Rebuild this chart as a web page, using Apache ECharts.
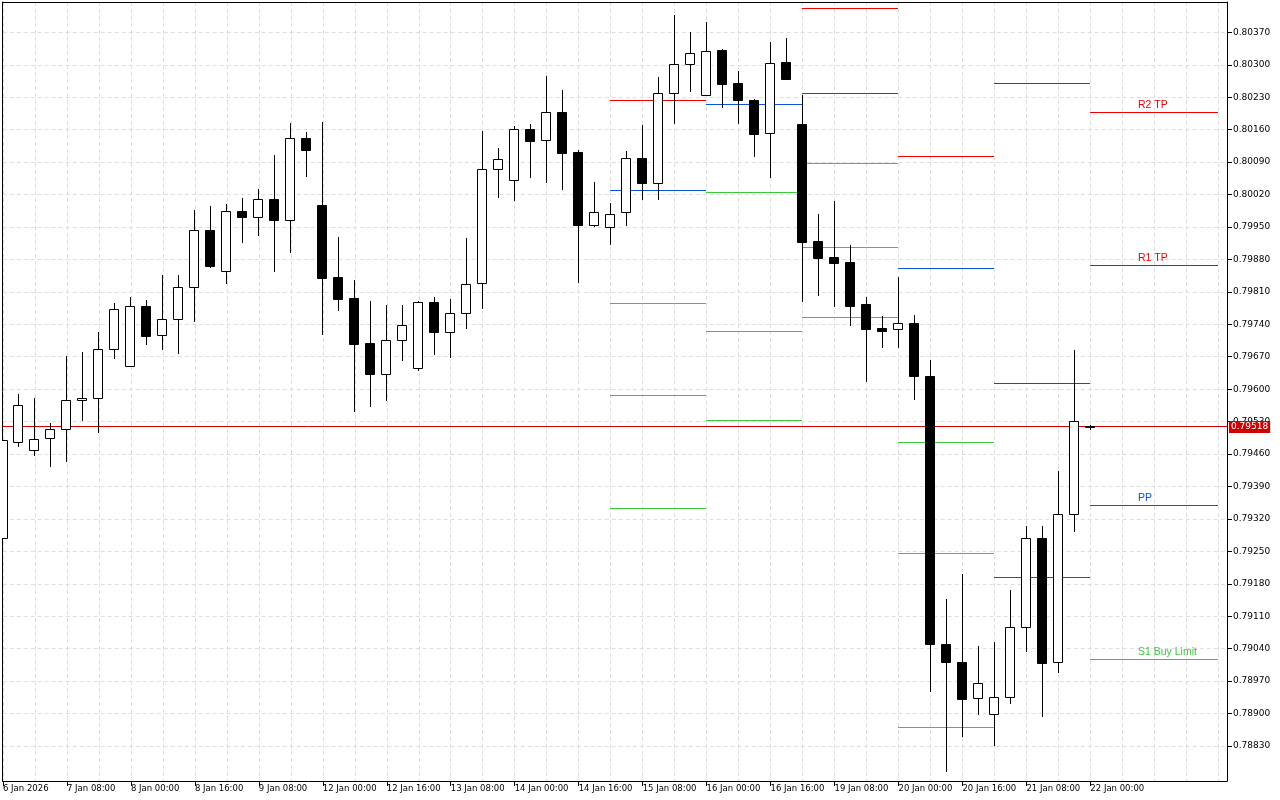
<!DOCTYPE html>
<html><head><meta charset="utf-8">
<script src="https://cdn.jsdelivr.net/npm/echarts@6/dist/echarts.min.js"></script>
<style>html,body{margin:0;padding:0;background:#fff}#c{width:1280px;height:800px}</style>
</head><body><div id="c"></div>
<script>
// ---- data (H4 candles, 6 Jan 16:00 ... 22 Jan 00:00) ----
const tickIdx = [0,4,8,12,16,20,24,28,32,36,40,44,48,52,56,60,64,68];
const tickLabels = ["6 Jan 2026","7 Jan 08:00","8 Jan 00:00","8 Jan 16:00","9 Jan 08:00","12 Jan 00:00","12 Jan 16:00","13 Jan 08:00","14 Jan 00:00","14 Jan 16:00","15 Jan 08:00","16 Jan 00:00","16 Jan 16:00","19 Jan 08:00","20 Jan 00:00","20 Jan 16:00","21 Jan 08:00","22 Jan 00:00"];
const yTicks = [0.78830,0.78900,0.78970,0.79040,0.79110,0.79180,0.79250,0.79320,0.79390,0.79460,0.79530,0.79600,0.79670,0.79740,0.79810,0.79880,0.79950,0.80020,0.80090,0.80160,0.80230,0.80300,0.80370];

const open = [0.79279,0.79487,0.79468,0.79494,0.79513,0.79576,0.79580,0.79686,0.79651,0.79779,0.79716,0.79751,0.79820,0.79943,0.79856,0.79984,0.79971,0.80010,0.79966,0.80141,0.79997,0.79841,0.79797,0.79700,0.79633,0.79707,0.79645,0.79789,0.79724,0.79765,0.79828,0.80076,0.80051,0.80161,0.80137,0.80199,0.80111,0.79955,0.79949,0.79982,0.80098,0.80045,0.80240,0.80301,0.80234,0.80332,0.80261,0.80224,0.80152,0.80306,0.80172,0.79920,0.79885,0.79874,0.79784,0.79731,0.79729,0.79743,0.79628,0.79051,0.79011,0.78933,0.78898,0.78935,0.79086,0.79278,0.79012,0.79330,0.79521];
const high = [0.79490,0.79590,0.79580,0.79527,0.79671,0.79680,0.79723,0.79786,0.79799,0.79792,0.79846,0.79846,0.79986,0.79995,0.79999,0.80012,0.80032,0.80105,0.80174,0.80155,0.80176,0.79928,0.79835,0.79790,0.79781,0.79781,0.79790,0.79799,0.79794,0.79926,0.80157,0.80120,0.80168,0.80172,0.80276,0.80245,0.80116,0.80047,0.80002,0.80114,0.80170,0.80273,0.80407,0.80371,0.80392,0.80334,0.80286,0.80227,0.80349,0.80358,0.80235,0.79978,0.80006,0.79911,0.79799,0.79758,0.79842,0.79760,0.79663,0.79147,0.79201,0.79045,0.79054,0.79166,0.79304,0.79304,0.79423,0.79684,0.79523];
const low = [0.79279,0.79478,0.79459,0.79435,0.79446,0.79533,0.79508,0.79668,0.79650,0.79698,0.79687,0.79679,0.79748,0.79864,0.79830,0.79918,0.79933,0.79856,0.79897,0.80061,0.79720,0.79771,0.79553,0.79564,0.79577,0.79663,0.79641,0.79676,0.79670,0.79733,0.79776,0.80015,0.80009,0.80058,0.80048,0.80032,0.79832,0.79953,0.79914,0.79955,0.80011,0.80011,0.80175,0.80244,0.80234,0.80209,0.80175,0.80104,0.80058,0.80270,0.79791,0.79804,0.79780,0.79739,0.79618,0.79692,0.79692,0.79579,0.78948,0.78775,0.78852,0.78899,0.78833,0.78923,0.79036,0.78895,0.78990,0.79293,0.79515];
const close = [0.79490,0.79565,0.79492,0.79513,0.79576,0.79580,0.79686,0.79774,0.79779,0.79715,0.79751,0.79820,0.79943,0.79866,0.79984,0.79971,0.80010,0.79966,0.80141,0.80117,0.79840,0.79795,0.79698,0.79633,0.79707,0.79738,0.79789,0.79724,0.79764,0.79826,0.80076,0.80096,0.80161,0.80136,0.80199,0.80110,0.79955,0.79982,0.79979,0.80098,0.80045,0.80240,0.80301,0.80325,0.80329,0.80259,0.80224,0.80151,0.80303,0.80270,0.79918,0.79884,0.79873,0.79780,0.79730,0.79726,0.79742,0.79629,0.79050,0.79012,0.78932,0.78965,0.78935,0.79086,0.79278,0.79009,0.79330,0.79532,0.79518];
const currentPrice = [0.79518];

// daily pivot levels (segments from day start to next day start, candle index)
const pivotStart = [38,44,50,56,62,68];
const pivotEnd   = [44,50,56,62,68,76];
const pivotR2 = [null,null,null,null,0.80260,0.80199];
const pivotR1 = [0.80225,null,0.80422,0.80103,0.79613,0.79867];
const pivotPP = [0.80029,0.80215,0.80240,0.79861,0.79194,0.79349];
const pivotS1 = [0.79785,0.80025,0.80089,0.79485,null,0.79017];
const pivotS2 = [0.79587,0.79725,0.79906,0.79246,null,null];
const pivotS3 = [0.79343,0.79533,0.79755,0.78870,null,null];
const pivotTags = {R2:'R2 TP', R1:'R1 TP', PP:'PP', S1:'S1 Buy Limit'};

// ---- layout / style ----
const Y_MIN = 0.787545, Y_MAX = 0.804354, X_MIN = -0.019, X_MAX = 76.544;
const TAG_IDX = 71;
const RED = '#f00000', BLUE = '#0a50d8', GREEN = '#3cc83c', PRICE = '#d00000';
const FONT = 'DejaVu Sans';
const GRID_COL = '#dedede';

const candleData = open.map((o, i) => [i, o, close[i], low[i], high[i]]);

const levels = [['R2', pivotR2, RED], ['R1', pivotR1, RED], ['PP', pivotPP, BLUE],
                ['S1', pivotS1, GREEN], ['S2', pivotS2, GREEN], ['S3', pivotS3, GREEN]];
const pivotData = [], pivotMeta = [];
levels.forEach(([name, arr, col]) => arr.forEach((v, d) => {
  if (v == null) return;
  pivotData.push([pivotStart[d], pivotEnd[d], v]);
  pivotMeta.push({ col, tag: d === arr.length - 1 ? (pivotTags[name] || null) : null });
}));

const vGrid = [];
for (let k = 0; k <= 76; k += 2) vGrid.push(k);

function renderCandle(params, api) {
  const i = api.value(0), o = api.value(1), c = api.value(2), l = api.value(3), h = api.value(4);
  const pO = api.coord([i, o]), pC = api.coord([i, c]), pL = api.coord([i, l]), pH = api.coord([i, h]);
  const px = Math.floor(pO[0]);
  const top = Math.round(Math.min(pO[1], pC[1]));
  const bot = Math.round(Math.max(pO[1], pC[1]));
  const bull = c >= o;
  const children = [{
    type: 'line',
    shape: { x1: px + 0.5, y1: Math.round(pH[1]), x2: px + 0.5, y2: Math.round(pL[1]) + 1 },
    style: { stroke: '#000', lineWidth: 1 }
  }];
  if (bot - top < 1) {
    children.push({ type: 'line', shape: { x1: px - 5, y1: top + 0.5, x2: px + 5, y2: top + 0.5 },
      style: { stroke: '#000', lineWidth: 1 } });
  } else {
    children.push({ type: 'rect', shape: { x: px - 4.5, y: top + 0.5, width: 9, height: bot - top },
      style: { fill: bull ? '#fff' : '#000', stroke: '#000', lineWidth: 1 } });
  }
  return { type: 'group', children };
}

function renderPivot(params, api) {
  const m = pivotMeta[params.dataIndex];
  const a = api.coord([api.value(0), api.value(2)]);
  const b = api.coord([api.value(1), api.value(2)]);
  const y = Math.round(a[1]) + 0.5;
  const children = [{ type: 'line', shape: { x1: Math.floor(a[0]), y1: y, x2: Math.floor(b[0]), y2: y },
    style: { stroke: m.col, lineWidth: 1 } }];
  if (m.tag) {
    const t = api.coord([TAG_IDX, api.value(2)]);
    children.push({ type: 'text', x: Math.round(t[0]), y: y - 2,
      style: { text: m.tag, fill: m.col, font: '10.5px "Liberation Sans"', align: 'left', verticalAlign: 'bottom' } });
  }
  return { type: 'group', children };
}

function renderPrice(params, api) {
  const v = api.value(0);
  const a = api.coord([X_MIN, v]);
  const b = api.coord([X_MAX, v]);
  const y = Math.round(a[1]) - 0.5;
  return { type: 'group', children: [
    { type: 'line', shape: { x1: a[0], y1: y, x2: b[0], y2: y }, style: { stroke: PRICE, lineWidth: 1 } },
    { type: 'text', x: Math.round(b[0]) + 2, y: Math.round(y),
      style: { text: v.toFixed(5), fill: '#fff', backgroundColor: PRICE, padding: [2, 2, 1, 2],
        font: '9px "DejaVu Sans"', align: 'left', verticalAlign: 'middle' } }
  ] };
}

const chart = echarts.init(document.getElementById('c'), null, { renderer: 'canvas' });
chart.setOption({
  animation: false,
  backgroundColor: '#fff',
  grid: { left: 2, top: 2, right: 53, bottom: 19, containLabel: false },
  xAxis: [{
    type: 'value', min: X_MIN, max: X_MAX, position: 'bottom',
    axisLine: { show: true, onZero: false, lineStyle: { color: '#000', width: 1 } },
    axisTick: { show: true, customValues: tickIdx, length: 5, lineStyle: { color: '#000' } },
    axisLabel: { show: true, customValues: tickIdx, align: 'left', margin: 3,
      fontFamily: FONT, fontSize: 8.5, color: '#000',
      formatter: v => tickLabels[tickIdx.indexOf(Math.round(v))] || '' },
    splitLine: { show: false }
  }, {
    type: 'value', min: X_MIN, max: X_MAX, position: 'top',
    axisLine: { show: true, onZero: false, lineStyle: { color: '#000', width: 1 } },
    axisTick: { show: false, customValues: vGrid },
    axisLabel: { show: false },
    splitLine: { show: true, lineStyle: { color: GRID_COL, width: 1, type: [4, 3] } }
  }],
  yAxis: [{
    type: 'value', min: Y_MIN, max: Y_MAX, position: 'right', scale: true,
    axisLine: { show: true, onZero: false, lineStyle: { color: '#000', width: 1 } },
    axisTick: { show: true, customValues: yTicks, length: 5, lineStyle: { color: '#000' } },
    axisLabel: { show: true, customValues: yTicks, margin: 6, fontFamily: FONT, fontSize: 9, color: '#000',
      formatter: v => v.toFixed(5) },
    splitLine: { show: true, lineStyle: { color: GRID_COL, width: 1, type: [4, 3] } }
  }, {
    type: 'value', min: Y_MIN, max: Y_MAX, position: 'left', scale: true,
    axisLine: { show: true, onZero: false, lineStyle: { color: '#000', width: 1 } },
    axisTick: { show: false }, axisLabel: { show: false }, splitLine: { show: false }
  }],
  series: [{
    type: 'custom', name: 'pivots', xAxisIndex: 0, yAxisIndex: 0, clip: true,
    renderItem: renderPivot, data: pivotData, z: 3, silent: true
  }, {
    type: 'custom', name: 'price', xAxisIndex: 0, yAxisIndex: 0, clip: false,
    renderItem: renderPrice, data: currentPrice.map(v => [v]),
    encode: { y: 0 }, z: 4, silent: true
  }, {
    type: 'custom', name: 'candles', xAxisIndex: 0, yAxisIndex: 0, clip: true,
    renderItem: renderCandle, data: candleData, z: 5, silent: true
  }]
});
</script></body></html>
